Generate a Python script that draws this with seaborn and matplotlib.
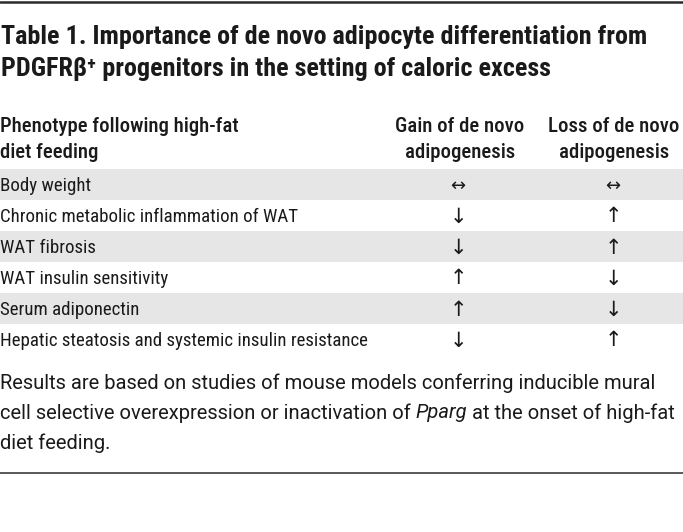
import matplotlib
matplotlib.use("Agg")
import matplotlib.pyplot as plt
from matplotlib import font_manager
import seaborn as sns

sns.set_theme(style="white")

# table content
title_lines = ["Table 1. Importance of de novo adipocyte differentiation from",
               "PDGFRβ⁺ progenitors in the setting of caloric excess"]
header_pheno = ["Phenotype following high-fat", "diet feeding"]
header_gain = ["Gain of de novo", "adipogenesis"]
header_loss = ["Loss of de novo", "adipogenesis"]
phenotypes = ["Body weight",
              "Chronic metabolic inflammation of WAT",
              "WAT fibrosis",
              "WAT insulin sensitivity",
              "Serum adiponectin",
              "Hepatic steatosis and systemic insulin resistance"]
gain = ["↔", "↓", "↓", "↑", "↑", "↓"]
loss = ["↔", "↑", "↑", "↓", "↓", "↑"]
footnote_1 = "Results are based on studies of mouse models conferring inducible mural"
footnote_2 = ["cell selective overexpression or inactivation of ", "Pparg", " at the onset of high-fat"]
footnote_3 = "diet feeding."


def has_font(name):
    return any(f.name == name for f in font_manager.fontManager.ttflist)


# condensed face for the table, regular face for the footnote
COND = "Roboto Condensed" if has_font("Roboto Condensed") else "Liberation Sans"
REG = "Roboto" if has_font("Roboto") else "Liberation Sans"
TXT = "#1a1a1a"

W, H = 683, 532
fig = plt.figure(figsize=(W / 100, H / 100), dpi=100)
ax = fig.add_axes([0, 0, 1, 1])
ax.set_xlim(0, W)
ax.set_ylim(H, 0)
ax.axis("off")
renderer = fig.canvas.get_renderer()

DY = 2  # va="center" counts the descent, nudge glyphs down a bit


def put(x, y, s, size, ha="left", weight="normal", style="normal", font=COND):
    return ax.text(x, y + DY, s, fontsize=size, ha=ha, va="center", color=TXT,
                   family=[font, "DejaVu Sans"], fontweight=weight, fontstyle=style)


def fit(t, target):
    # scale font so the text is as wide as in the original
    w = t.get_window_extent(renderer).width
    t.set_fontsize(t.get_fontsize() * target / w)
    return t.get_fontsize()


# rules
ax.axhline(1.5, color="#2b2b2b", lw=1.8)
ax.axhline(473, color="#2b2b2b", lw=1.1)

# title
t = put(1, 35, title_lines[0], 18, weight="bold")
ts = fit(t, 646)
put(1, 67, title_lines[1], ts, weight="bold")

# header
hx_gain, hx_loss = 460, 614
hy = [125, 151]
t = put(0, hy[0], header_pheno[0], 14, weight="medium")
hs = fit(t, 240)
put(0, hy[1], header_pheno[1], hs, weight="medium")
for i in range(2):
    put(hx_gain, hy[i], header_gain[i], hs, ha="center", weight="medium")
    put(hx_loss, hy[i], header_loss[i], hs, ha="center", weight="medium")

# body rows with alternating bands
x_gain, x_loss = 458, 613
row_h = 31
y0 = 168.5
t = put(0, 0, phenotypes[-1], 13.5)
bs = fit(t, 368)
t.remove()
for i, (p, g, l) in enumerate(zip(phenotypes, gain, loss)):
    top = y0 + i * row_h
    if i % 2 == 0:
        ax.axhspan(top, top + row_h, color="#e6e6e6", lw=0, zorder=0)
    yc = top + row_h / 2
    put(0, yc, p, bs)
    put(x_gain, yc, g, 15 if g != "↔" else 13, ha="center")
    put(x_loss, yc, l, 15 if l != "↔" else 13, ha="center")

# footnote
t = put(0, 381, footnote_1, 13.5, font=REG)
fs = fit(t, 658)
x = 0
for j, part in enumerate(footnote_2):
    t = put(x, 411, part, fs, style="italic" if j == 1 else "normal", font=REG)
    x = t.get_window_extent(renderer).x1
put(0, 441, footnote_3, fs, font=REG)

fig.savefig("out.png", dpi=100, facecolor="white")
